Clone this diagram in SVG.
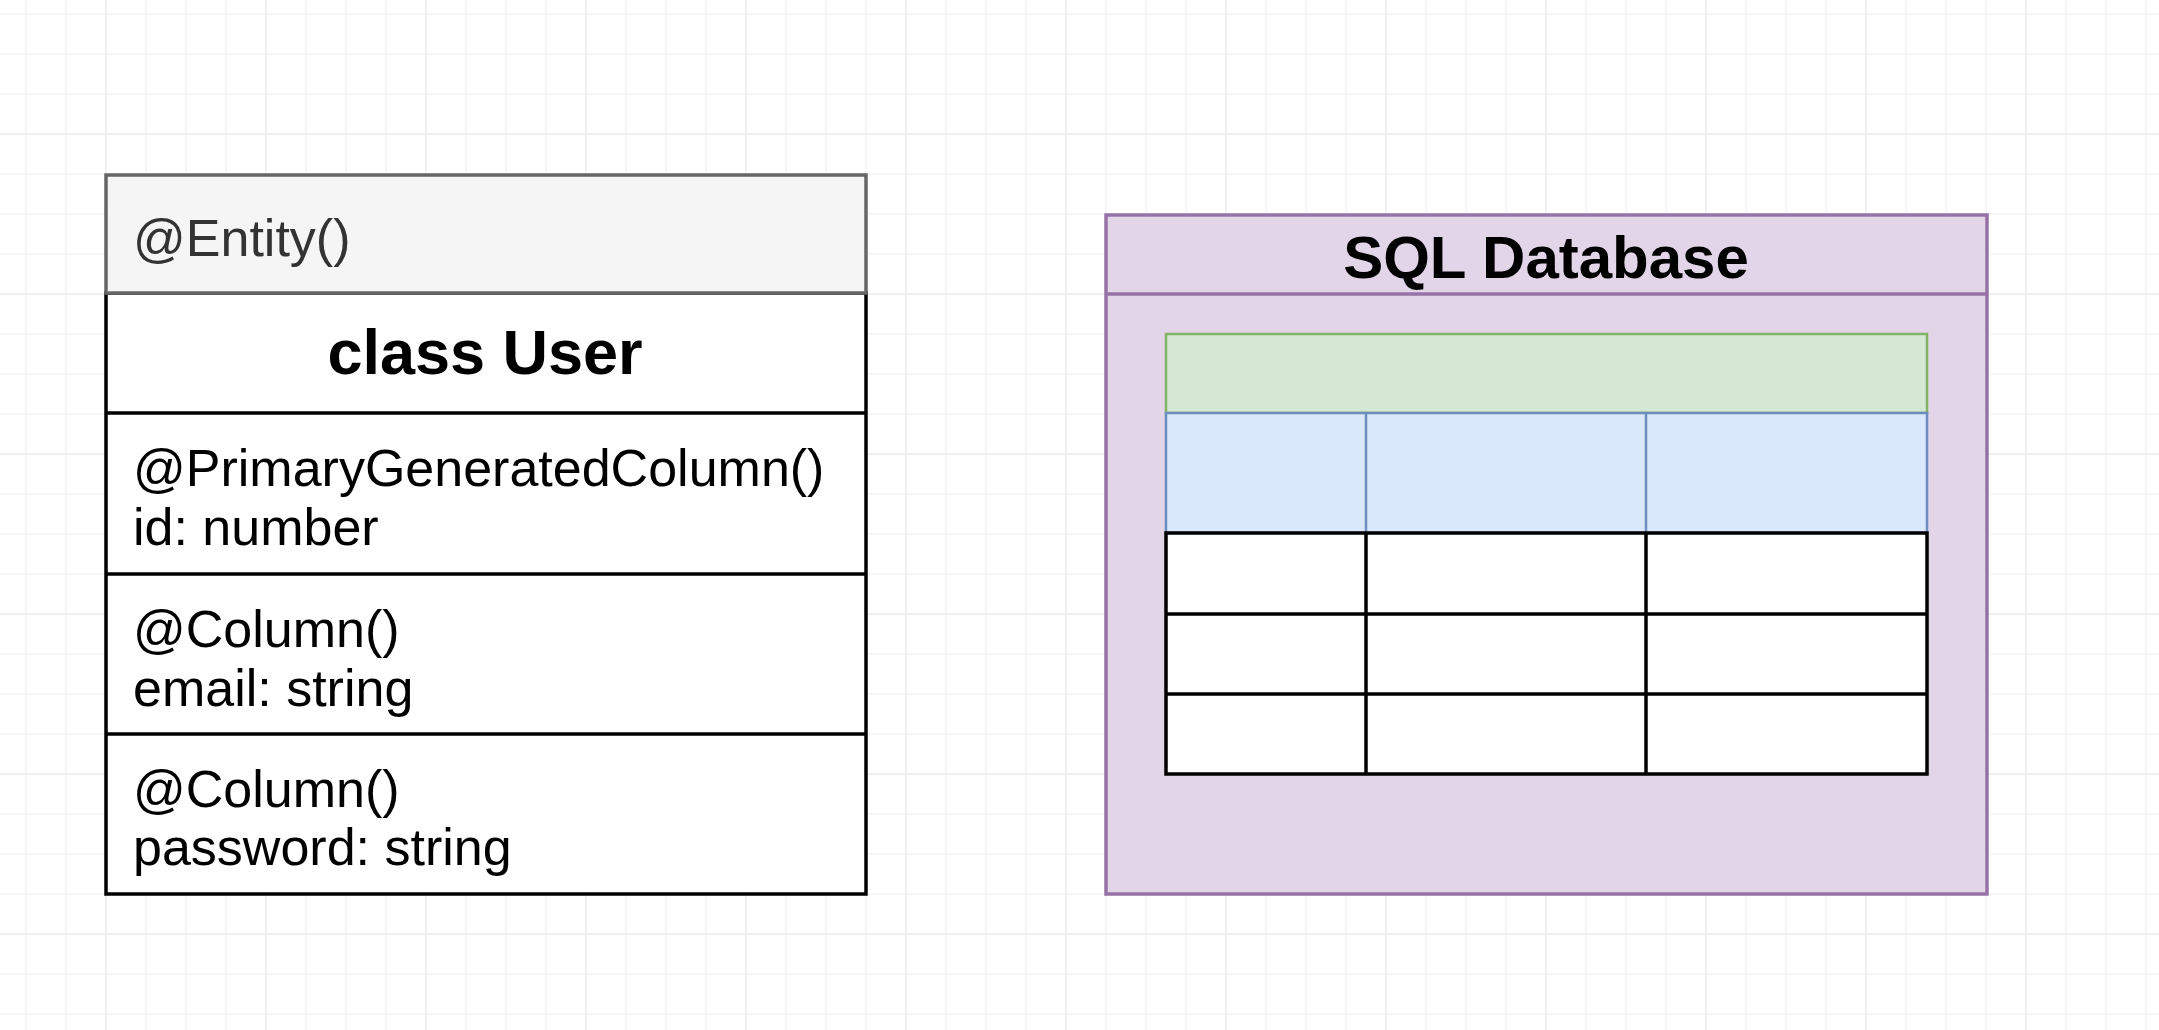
<svg xmlns="http://www.w3.org/2000/svg" width="2159" height="1030" viewBox="0 0 2159 1030">
  <defs>
    <pattern id="grid" patternUnits="userSpaceOnUse" x="25" y="13" width="160" height="160">
      <path d="M1 0V160M41 0V160M121 0V160M0 1H160M0 41H160M0 81H160" stroke="#f4f4f4" stroke-width="1.5" fill="none"/>
      <path d="M81 0V160M0 121H160" stroke="#ebebeb" stroke-width="1.5" fill="none"/>
    </pattern>
    <style>
      .reg { font-family: "Liberation Sans", Arial, Helvetica, sans-serif; font-size: 52px; fill: #000000; }
      .entity { fill: #333333; }
      .bold { font-family: "Liberation Sans", Arial, Helvetica, sans-serif; font-weight: bold; fill: #000000; text-anchor: middle; }
      .blk { fill: #ffffff; stroke: #000000; stroke-width: 3.5; }
      .ln { stroke: #000000; stroke-width: 3.5; fill: none; }
    </style>
  </defs>
  <rect x="0" y="0" width="2159" height="1030" fill="#ffffff"/>
  <rect x="0" y="0" width="2159" height="1030" fill="url(#grid)"/>

  <g id="entity-user">
    <rect class="blk" x="106" y="293" width="760" height="601"/>
    <line class="ln" x1="106" y1="413" x2="866" y2="413"/>
    <line class="ln" x1="106" y1="574" x2="866" y2="574"/>
    <line class="ln" x1="106" y1="734" x2="866" y2="734"/>
    <rect x="106" y="175" width="760" height="118" fill="#f5f5f5" stroke="#666666" stroke-width="3.5"/>
    <text class="reg entity" x="133" y="256">@Entity()</text>
    <text class="bold" x="485" y="374" font-size="63">class User</text>
    <text class="reg" x="133" y="486">@PrimaryGeneratedColumn()</text>
    <text class="reg" x="133" y="545">id: number</text>
    <text class="reg" x="133" y="647">@Column()</text>
    <text class="reg" x="133" y="706">email: string</text>
    <text class="reg" x="133" y="807">@Column()</text>
    <text class="reg" x="133" y="865">password: string</text>
  </g>

  <g id="sql-database">
    <rect x="1106" y="215" width="881" height="679" fill="#e1d5e7" stroke="#9673a6" stroke-width="3.5"/>
    <line x1="1106" y1="294" x2="1987" y2="294" stroke="#9673a6" stroke-width="3.5"/>
    <text class="bold" x="1546" y="278" font-size="60">SQL Database</text>
  </g>

  <g id="table">
    <rect x="1166" y="334" width="761" height="79" fill="#d5e8d4" stroke="#82b366" stroke-width="2.5"/>
    <rect x="1166" y="413" width="761" height="120" fill="#dae8fc" stroke="#6c8ebf" stroke-width="2.5"/>
    <line x1="1366" y1="413" x2="1366" y2="533" stroke="#6c8ebf" stroke-width="2.5"/>
    <line x1="1646" y1="413" x2="1646" y2="533" stroke="#6c8ebf" stroke-width="2.5"/>
    <rect class="blk" x="1166" y="533" width="761" height="241"/>
    <line class="ln" x1="1166" y1="614" x2="1927" y2="614"/>
    <line class="ln" x1="1166" y1="694" x2="1927" y2="694"/>
    <line class="ln" x1="1366" y1="533" x2="1366" y2="774"/>
    <line class="ln" x1="1646" y1="533" x2="1646" y2="774"/>
  </g>

  <g id="connectors"/>
</svg>
